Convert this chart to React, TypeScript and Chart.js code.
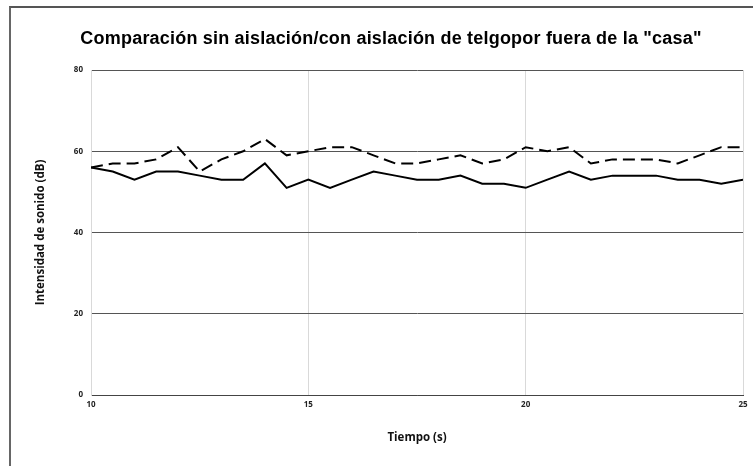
import React, { useEffect, useRef } from "react";
import { Chart, registerables } from "chart.js";

Chart.register(...registerables);

const TITLE = 'Comparación sin aislación/con aislación de telgopor fuera de la "casa"';
const X_TITLE = "Tiempo (s)";
const Y_TITLE = "Intensidad de sonido (dB)";

const tiempo = [
  10, 10.5, 11, 11.5, 12, 12.5, 13, 13.5, 14, 14.5, 15, 15.5, 16, 16.5, 17, 17.5,
  18, 18.5, 19, 19.5, 20, 20.5, 21, 21.5, 22, 22.5, 23, 23.5, 24, 24.5, 25,
];
const sinAislacion = [
  56, 57, 57, 58, 61, 55, 58, 60, 63, 59, 60, 61, 61, 59, 57, 57, 58, 59, 57, 58,
  61, 60, 61, 57, 58, 58, 58, 57, 59, 61, 61,
];
const conAislacion = [
  56, 55, 53, 55, 55, 54, 53, 53, 57, 51, 53, 51, 53, 55, 54, 53, 53, 54, 52, 52,
  51, 53, 55, 53, 54, 54, 54, 53, 53, 52, 53,
];
const xTicks = [10, 15, 20, 25];
const yTicks = [0, 20, 40, 60, 80];

const tickFont = { family: "'Open Sans', sans-serif", weight: "bold" as const, size: 8 };
const axisTitleFont = { family: "'Open Sans', sans-serif", weight: "bold" as const, size: 11.5 };

const titlePlugin = {
  id: "centeredTitle",
  afterDraw(chart: any) {
    const ctx = chart.ctx;
    ctx.save();
    ctx.font = "bold 18px 'Liberation Sans', Arial, sans-serif";
    try {
      (ctx as any).letterSpacing = "0.2px";
    } catch (e) {}
    ctx.fillStyle = "#000";
    ctx.textAlign = "center";
    ctx.textBaseline = "alphabetic";
    ctx.fillText(TITLE, chart.width / 2 + 9, 36);
    ctx.restore();
  },
};

export default function App() {
  const ref = useRef<HTMLCanvasElement>(null);

  useEffect(() => {
    if (!ref.current) return;
    const chart = new Chart(ref.current, {
      type: "line",
      data: {
        datasets: [
          {
            label: "Sin aislación",
            data: tiempo.map((t, i) => ({ x: t, y: sinAislacion[i] })),
            borderColor: "#000",
            borderWidth: 2,
            borderDash: [12, 6],
            pointRadius: 0,
            tension: 0,
            fill: false,
          },
          {
            label: "Con aislación",
            data: tiempo.map((t, i) => ({ x: t, y: conAislacion[i] })),
            borderColor: "#000",
            borderWidth: 2,
            pointRadius: 0,
            tension: 0,
            fill: false,
          },
        ],
      },
      options: {
        responsive: false,
        animation: false,
        devicePixelRatio: 1,
        layout: { padding: { top: 62, right: 10, left: 0, bottom: 0 } },
        plugins: {
          legend: { display: false },
          title: { display: false },
          tooltip: { enabled: false },
        },
        scales: {
          x: {
            type: "linear",
            min: xTicks[0],
            max: xTicks[xTicks.length - 1],
            afterBuildTicks: (s: any) => {
              s.ticks = xTicks.map((v) => ({ value: v }));
            },
            afterFit: (s: any) => {
              s.height = 71;
            },
            ticks: { font: tickFont, color: "#222", padding: 5, maxRotation: 0 },
            grid: { color: "#d9d9d9", drawTicks: false, lineWidth: 1 },
            border: { color: "#444", width: 1 },
            title: {
              display: true,
              text: X_TITLE,
              font: axisTitleFont,
              color: "#111",
              padding: { top: 0, bottom: 21 },
            },
          },
          y: {
            min: yTicks[0],
            max: yTicks[yTicks.length - 1],
            afterBuildTicks: (s: any) => {
              s.ticks = yTicks.map((v) => ({ value: v }));
            },
            afterFit: (s: any) => {
              s.width = 80;
            },
            ticks: { font: tickFont, color: "#222", padding: 8 },
            grid: { color: "#555", drawTicks: false, lineWidth: 1 },
            border: { color: "#d9d9d9", width: 1 },
            title: {
              display: true,
              text: Y_TITLE,
              font: axisTitleFont,
              color: "#111",
              padding: { top: 23, bottom: 0 },
            },
          },
        },
      },
      plugins: [titlePlugin],
    });
    return () => chart.destroy();
  }, []);

  return (
    <div
      style={{
        position: "absolute",
        left: 9,
        top: 6,
        width: 744,
        height: 460,
        borderTop: "2px solid #555",
        borderLeft: "2px solid #666",
        boxSizing: "border-box",
      }}
    >
      <canvas ref={ref} width={742} height={458} style={{ display: "block" }} />
    </div>
  );
}
